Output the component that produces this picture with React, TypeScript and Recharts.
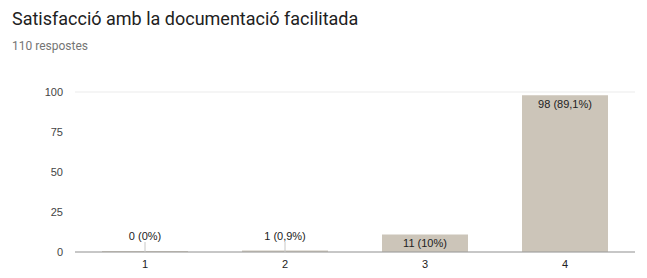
import React from "react";
import { BarChart, Bar, XAxis, YAxis, CartesianGrid, LabelList } from "recharts";

const categories = ["1", "2", "3", "4"];
const counts = [0, 1, 11, 98];
const percents = ["0%", "0,9%", "10%", "89,1%"];
const yTicks = [0, 25, 50, 75, 100];

const data = categories.map((c, i) => ({
  name: c,
  value: counts[i],
  label: `${counts[i]} (${percents[i]})`,
}));

const BAR_FILL = "#ccc5b9";
const FONT = "'Liberation Sans', Arial, sans-serif";

function BarLabel(props: any) {
  const { x, y, width, height, value } = props;
  const cx = x + width / 2;
  if (height < 16) {
    const bottom = y + height;
    return (
      <g>
        <line x1={cx} x2={cx} y1={bottom - 10} y2={bottom} stroke="#c8c8c8" strokeWidth={1} />
        <text x={cx} y={bottom - 16} textAnchor="middle" dominantBaseline="central" fontSize={11} fill="#222" fontFamily={FONT}>
          {value}
        </text>
      </g>
    );
  }
  return (
    <text x={cx} y={y + 8.5} textAnchor="middle" dominantBaseline="central" fontSize={11} fill="#222" fontFamily={FONT}>
      {value}
    </text>
  );
}

export default function App() {
  return (
    <div style={{ position: "absolute", left: 0, top: 0, width: 647, height: 278, background: "#fff" }}>
      <div style={{ position: "absolute", left: 12, top: 7, fontFamily: "Roboto, sans-serif", fontSize: 18, color: "#212121", lineHeight: "24px", whiteSpace: "nowrap" }}>
        Satisfacció amb la documentació facilitada
      </div>
      <div style={{ position: "absolute", left: 12, top: 38, fontFamily: "Roboto, sans-serif", fontSize: 12, color: "#757575", lineHeight: "16px" }}>
        110 respostes
      </div>
      <BarChart
        width={647}
        height={278}
        data={data}
        margin={{ top: 92, right: 12, left: 0, bottom: 6 }}
        barCategoryGap={27}
      >
        <CartesianGrid vertical={false} stroke="#ebebeb" />
        <XAxis
          dataKey="name"
          height={20}
          tickSize={0}
          tickMargin={8}
          axisLine={{ stroke: "#999" }}
          tick={{ fontSize: 11, fill: "#222", fontFamily: FONT }}
        />
        <YAxis
          yAxisId="left"
          width={75}
          domain={[0, 100]}
          ticks={yTicks}
          tickSize={0}
          tickMargin={12}
          axisLine={false}
          tickLine={false}
          tick={{ fontSize: 11, fill: "#444", fontFamily: FONT }}
        />
        <YAxis
          yAxisId="right"
          orientation="right"
          width={0}
          domain={[0, 100]}
          tick={false}
          tickLine={false}
          axisLine={{ stroke: "#ebebeb" }}
        />
        <Bar yAxisId="left" dataKey="value" fill={BAR_FILL} minPointSize={1} isAnimationActive={false}>
          <LabelList dataKey="label" content={<BarLabel />} />
        </Bar>
      </BarChart>
    </div>
  );
}
